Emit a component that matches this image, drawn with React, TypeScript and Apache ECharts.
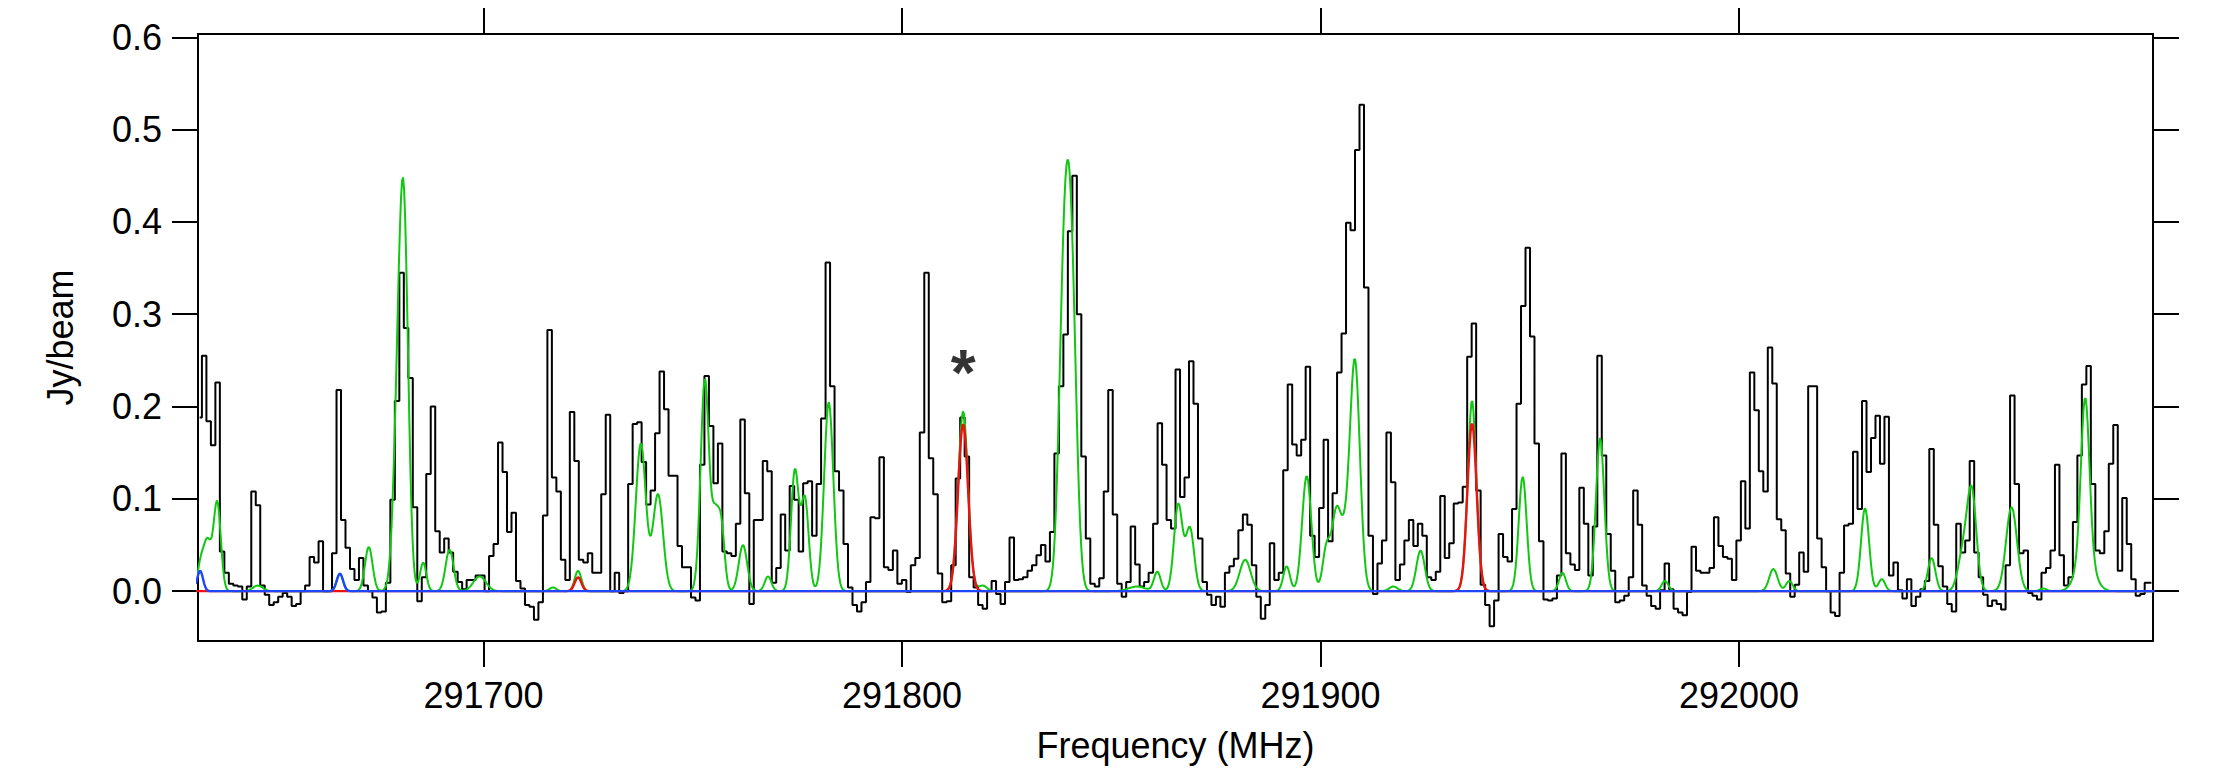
import React, { useEffect, useRef } from "react";
import * as echarts from "echarts";

// Observed spectrum: one value per channel (Jy/beam), uniform channel grid
const CHANNEL_START_MHZ = 291632.2;
const CHANNEL_WIDTH_MHZ = 1.072;
const OBSERVED_FLUX = [
  0.188, 0.255, 0.184, 0.158, 0.226, 0.043, 0.020, 0.008, 0.006, 0.005,
  -0.009, 0.005, 0.108, 0.093, 0.006, -0.004, -0.015, -0.012, -0.006, -0.002,
  -0.006, -0.016, -0.014, 0.000, 0.006, 0.037, 0.031, 0.054, 0.000, 0.000,
  0.041, 0.218, 0.077, 0.047, 0.024, 0.012, 0.036, 0.006, 0.000, -0.007,
  -0.023, -0.022, 0.009, 0.099, 0.206, 0.345, 0.285, 0.231, 0.091, -0.011,
  0.015, 0.127, 0.200, 0.065, 0.042, 0.057, 0.042, 0.021, 0.010, 0.002,
  0.012, 0.012, 0.017, 0.017, 0.000, 0.038, 0.051, 0.161, 0.129, 0.064,
  0.085, 0.011, 0.003, -0.015, -0.017, -0.031, -0.012, 0.082, 0.283, 0.123,
  0.108, 0.034, 0.012, 0.194, 0.141, 0.034, 0.031, 0.041, 0.020, 0.020,
  0.105, 0.191, 0.000, 0.020, -0.002, 0.000, 0.116, 0.181, 0.183, 0.140,
  0.094, 0.109, 0.171, 0.238, 0.197, 0.125, 0.125, 0.049, 0.026, 0.026,
  -0.007, -0.010, 0.137, 0.233, 0.179, 0.117, 0.160, 0.043, 0.041, 0.038,
  0.073, 0.186, 0.106, -0.014, 0.077, 0.077, 0.141, 0.130, 0.009, 0.025,
  0.083, 0.044, 0.114, 0.099, 0.043, 0.117, 0.119, 0.060, 0.116, 0.187,
  0.356, 0.222, 0.130, 0.109, 0.051, 0.004, -0.015, -0.022, -0.012, 0.010,
  0.080, 0.079, 0.145, 0.026, 0.023, 0.044, 0.008, 0.012, -0.001, 0.028,
  0.036, 0.172, 0.345, 0.144, 0.105, 0.019, -0.012, -0.011, 0.028, 0.122,
  0.188, 0.146, 0.015, 0.004, -0.015, -0.019, 0.000, 0.011, -0.003, -0.014,
  0.010, 0.058, 0.012, 0.013, 0.015, 0.022, 0.028, 0.039, 0.050, 0.032,
  0.064, 0.149, 0.222, 0.278, 0.390, 0.450, 0.300, 0.146, 0.057, 0.008,
  0.005, 0.014, 0.108, 0.218, 0.083, 0.008, -0.006, 0.010, 0.070, 0.029,
  0.005, 0.010, 0.020, 0.073, 0.182, 0.137, 0.077, 0.068, 0.240, 0.102,
  0.123, 0.249, 0.203, 0.057, 0.010, -0.004, -0.015, -0.006, -0.017, 0.020,
  0.027, 0.035, 0.066, 0.083, 0.072, 0.028, -0.006, -0.030, -0.015, 0.052,
  0.012, 0.020, 0.131, 0.224, 0.159, 0.147, 0.164, 0.243, 0.060, 0.037,
  0.090, 0.164, 0.054, 0.106, 0.237, 0.279, 0.399, 0.391, 0.478, 0.527,
  0.329, 0.060, -0.003, 0.030, 0.055, 0.172, 0.118, 0.012, 0.029, 0.055,
  0.077, 0.049, 0.073, 0.060, 0.015, 0.012, 0.021, 0.103, 0.036, 0.052,
  0.095, 0.096, 0.113, 0.254, 0.290, 0.109, 0.007, -0.015, -0.038, -0.010,
  0.062, 0.037, 0.032, 0.089, 0.203, 0.309, 0.372, 0.276, 0.160, 0.054,
  -0.009, -0.010, -0.008, 0.017, 0.149, 0.041, 0.029, 0.023, 0.112, 0.073,
  0.017, 0.070, 0.255, 0.147, 0.062, 0.022, -0.012, -0.010, -0.005, 0.015,
  0.109, 0.072, 0.006, -0.005, -0.016, -0.019, 0.001, 0.030, 0.002, -0.019,
  -0.023, -0.026, -0.001, 0.048, 0.022, 0.020, 0.020, 0.025, 0.080, 0.049,
  0.037, 0.035, 0.012, 0.055, 0.119, 0.068, 0.237, 0.196, 0.130, 0.108,
  0.264, 0.225, 0.078, 0.066, 0.019, -0.006, 0.007, 0.042, 0.021, 0.222,
  0.222, 0.057, 0.026, 0.000, -0.023, -0.027, 0.020, 0.071, 0.073, 0.151,
  0.089, 0.206, 0.129, 0.166, 0.190, 0.138, 0.189, 0.017, 0.031, 0.001,
  -0.008, 0.013, -0.016, -0.006, 0.002, 0.011, 0.154, 0.072, 0.027, 0.005,
  -0.014, -0.022, 0.073, 0.042, 0.055, 0.141, 0.042, 0.015, -0.004, -0.016,
  -0.010, -0.014, -0.020, 0.028, 0.212, 0.116, 0.041, 0.044, -0.002, -0.005,
  -0.009, 0.020, 0.025, 0.044, 0.137, 0.039, 0.006, 0.015, 0.075, 0.147,
  0.224, 0.244, 0.116, 0.044, 0.041, 0.065, 0.138, 0.180, 0.022, 0.101,
  0.051, 0.013, -0.005, -0.003, 0.009, 0.009,
];

// Model line lists: [centre (MHz), peak (Jy/beam), gaussian sigma (MHz)]
const MODEL_OTHER_LINES = [
  [291634.0, 0.055, 1.0], [291636.4, 0.095, 0.85], [291646.1, 0.006, 1.2],
  [291672.6, 0.048, 0.9], [291680.0, 0.26, 1.2], [291681.2, 0.26, 1.0],
  [291685.6, 0.031, 0.75], [291691.9, 0.045, 0.95], [291699.1, 0.016, 1.5],
  [291716.6, 0.004, 0.8], [291722.6, 0.007, 0.8],
  [291737.6, 0.16, 1.2], [291741.7, 0.105, 1.2],
  [291752.9, 0.23, 1.0], [291755.3, 0.07, 0.8], [291756.8, 0.07, 0.8],
  [291762.0, 0.05, 1.0], [291768.0, 0.016, 0.8],
  [291774.4, 0.13, 0.9], [291776.8, 0.10, 0.9], [291782.5, 0.205, 1.1],
  [291814.6, 0.014, 0.8], [291819.3, 0.006, 1.0],
  [291838.7, 0.31, 1.2], [291840.5, 0.31, 1.2],
  [291856.1, 0.005, 2.0], [291861.0, 0.021, 0.8],
  [291866.0, 0.094, 1.0], [291868.8, 0.068, 1.0],
  [291882.0, 0.034, 1.3], [291891.9, 0.027, 0.8], [291896.7, 0.125, 1.1],
  [291901.4, 0.045, 0.9], [291903.8, 0.085, 1.1], [291905.8, 0.04, 1.0],
  [291908.2, 0.25, 1.2], [291917.4, 0.005, 1.0], [291923.9, 0.044, 1.0],
  [291936.2, 0.025, 0.6], [291948.3, 0.124, 0.95], [291957.8, 0.02, 0.8],
  [291966.8, 0.166, 1.0], [291982.3, 0.011, 0.8],
  [292008.2, 0.024, 1.0], [292012.0, 0.011, 0.8],
  [292030.1, 0.09, 0.95], [292034.1, 0.013, 0.8], [292046.0, 0.036, 0.9],
  [292053.5, 0.04, 1.2], [292055.6, 0.105, 1.1], [292065.1, 0.091, 1.3],
  [292072.7, 0.003, 0.8], [292082.7, 0.17, 1.0], [292082.7, 0.04, 2.0],
];
const MODEL_RED_LINES = [
  [291722.6, 0.015, 0.8], [291814.6, 0.181, 1.2], [291936.2, 0.182, 1.1],
];
const MODEL_BLUE_LINES = [
  [291632.3, 0.022, 0.7], [291665.7, 0.019, 0.75],
];

// Annotated transition
const MARKED_LINE = [[291814.6, 0.244]];

// Axes
const X_MIN = 291631.8;
const X_MAX = 292098.9;
const Y_MIN = -0.054;
const Y_MAX = 0.6036;
const X_TICKS = [291700, 291800, 291900, 292000];
const Y_TICKS = [0, 0.1, 0.2, 0.3, 0.4, 0.5, 0.6];
const MODEL_STEP_MHZ = 0.25;

const FONT = "'Liberation Sans', Arial, Helvetica, sans-serif";

function profile(lines: number[][], f: number): number {
  let s = 0;
  for (const [c, a, sg] of lines) {
    const d = f - c;
    s += a * Math.exp(-(d * d) / (2 * sg * sg));
  }
  return s;
}

export default function App() {
  const ref = useRef<HTMLDivElement>(null);

  useEffect(() => {
    if (!ref.current) return;
    const chart = echarts.init(ref.current, null, { renderer: "svg" });

    const observed = OBSERVED_FLUX.map((v, i) => [
      CHANNEL_START_MHZ + i * CHANNEL_WIDTH_MHZ,
      v,
    ]);

    const freqs: number[] = [];
    for (let f = X_MIN - 0.5; f <= X_MAX + 0.5; f += MODEL_STEP_MHZ) freqs.push(f);
    const red = freqs.map((f) => [f, profile(MODEL_RED_LINES, f)]);
    const blue = freqs.map((f) => [f, profile(MODEL_BLUE_LINES, f)]);
    const total = freqs.map((f, i) => [
      f,
      profile(MODEL_OTHER_LINES, f) + red[i][1] + blue[i][1],
    ]);

    const axisLine = { show: true, onZero: false, lineStyle: { color: "#000", width: 2 } };
    const tickStyle = { color: "#000", width: 2 };
    const labelStyle = { fontSize: 36, color: "#000", fontFamily: FONT };

    const option: any = {
      animation: false,
      backgroundColor: "#ffffff",
      grid: {
        left: 198,
        right: 84,
        top: 34,
        bottom: 127,
        show: true,
        borderColor: "#000",
        borderWidth: 2,
        backgroundColor: "transparent",
        containLabel: false,
        outerBoundsMode: "none",
      },
      xAxis: [
        {
          type: "value",
          min: X_MIN,
          max: X_MAX,
          position: "bottom",
          name: "Frequency (MHz)",
          nameLocation: "middle",
          nameGap: 86,
          nameTextStyle: labelStyle,
          axisLine,
          axisTick: { show: true, length: 26, lineStyle: tickStyle, customValues: X_TICKS },
          axisLabel: {
            show: true,
            customValues: X_TICKS,
            margin: 36,
            formatter: (v: number) => String(Math.round(v)),
            ...labelStyle,
          },
          splitLine: { show: false },
        },
        {
          type: "value",
          min: X_MIN,
          max: X_MAX,
          position: "top",
          axisLine,
          axisTick: { show: true, length: 26, lineStyle: tickStyle, customValues: X_TICKS },
          axisLabel: { show: false },
          splitLine: { show: false },
        },
      ],
      yAxis: [
        {
          type: "value",
          min: Y_MIN,
          max: Y_MAX,
          position: "left",
          name: "Jy/beam",
          nameLocation: "middle",
          nameGap: 120,
          nameTextStyle: labelStyle,
          axisLine,
          axisTick: { show: true, length: 26, lineStyle: tickStyle, customValues: Y_TICKS },
          axisLabel: {
            show: true,
            customValues: Y_TICKS,
            margin: 36,
            formatter: (v: number) => v.toFixed(1),
            ...labelStyle,
          },
          splitLine: { show: false },
        },
        {
          type: "value",
          min: Y_MIN,
          max: Y_MAX,
          position: "right",
          axisLine,
          axisTick: { show: true, length: 26, lineStyle: tickStyle, customValues: Y_TICKS },
          axisLabel: { show: false },
          splitLine: { show: false },
        },
      ],
      series: [
        {
          name: "observed",
          type: "line",
          step: "middle",
          data: observed,
          symbol: "none",
          lineStyle: { color: "#000", width: 2 },
          silent: true,
        },
        {
          name: "model",
          type: "line",
          data: total,
          symbol: "none",
          lineStyle: { color: "#10c810", width: 2 },
          silent: true,
        },
        {
          name: "species A",
          type: "line",
          data: red,
          symbol: "none",
          lineStyle: { color: "#ee1111", width: 2.4 },
          silent: true,
        },
        {
          name: "species B",
          type: "line",
          data: blue,
          symbol: "none",
          lineStyle: { color: "#1f45ff", width: 2.4 },
          silent: true,
        },
        {
          name: "marker",
          type: "scatter",
          data: MARKED_LINE,
          symbolSize: 1,
          itemStyle: { color: "rgba(0,0,0,0)" },
          label: {
            show: true,
            position: "inside",
            formatter: "*",
            fontSize: 64,
            fontWeight: "bold",
            color: "#000",
            fontFamily: FONT,
            offset: [0, 7],
          },
          silent: true,
        },
      ],
    };

    chart.setOption(option);
    return () => chart.dispose();
  }, []);

  return (
    <div
      ref={ref}
      style={{ position: "fixed", left: 0, top: 0, width: "2237px", height: "768px", background: "#fff" }}
    />
  );
}
